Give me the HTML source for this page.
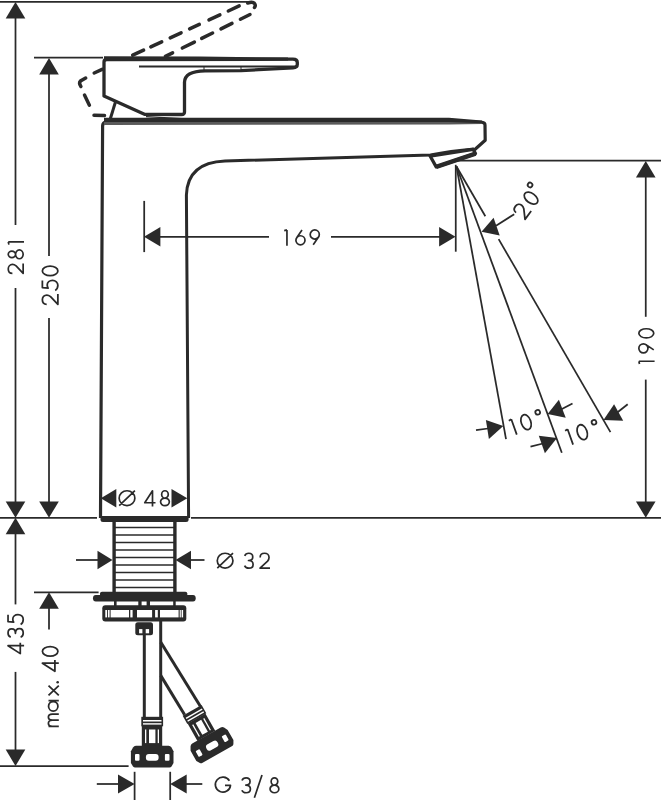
<!DOCTYPE html>
<html><head><meta charset="utf-8"><style>
html,body{margin:0;padding:0;background:#fff;}
svg{display:block;}
text{font-family:"Liberation Sans",sans-serif;fill:#2a2a2a;}
</style></head><body>
<svg width="661" height="800" viewBox="0 0 661 800" stroke="#2a2a2a" fill="none">
<line x1="0.00" y1="1.90" x2="251.00" y2="1.90" stroke-width="1.75" />
<line x1="34.00" y1="57.50" x2="103.00" y2="57.50" stroke-width="1.75" />
<line x1="15.50" y1="10.00" x2="15.50" y2="225.00" stroke-width="1.75" />
<line x1="15.50" y1="288.00" x2="15.50" y2="510.00" stroke-width="1.75" />
<polygon points="15.50,2.00 25.30,18.40 5.70,18.40" fill="#2a2a2a" stroke="none" stroke-width="0"/>
<polygon points="15.50,517.80 5.70,501.40 25.30,501.40" fill="#2a2a2a" stroke="none" stroke-width="0"/>
<polygon points="15.50,517.80 25.30,534.20 5.70,534.20" fill="#2a2a2a" stroke="none" stroke-width="0"/>
<line x1="15.50" y1="525.00" x2="15.50" y2="604.40" stroke-width="1.75" />
<line x1="15.50" y1="671.90" x2="15.50" y2="758.00" stroke-width="1.75" />
<polygon points="15.50,766.00 5.70,749.60 25.30,749.60" fill="#2a2a2a" stroke="none" stroke-width="0"/>
<line x1="49.00" y1="66.00" x2="49.00" y2="256.00" stroke-width="1.75" />
<line x1="49.00" y1="318.00" x2="49.00" y2="510.00" stroke-width="1.75" />
<polygon points="49.00,58.00 58.80,74.40 39.20,74.40" fill="#2a2a2a" stroke="none" stroke-width="0"/>
<polygon points="49.00,517.80 39.20,501.40 58.80,501.40" fill="#2a2a2a" stroke="none" stroke-width="0"/>
<polygon points="49.00,592.30 58.80,608.70 39.20,608.70" fill="#2a2a2a" stroke="none" stroke-width="0"/>
<line x1="49.00" y1="600.00" x2="49.00" y2="629.40" stroke-width="1.75" />
<line x1="0.00" y1="517.80" x2="97.00" y2="517.80" stroke-width="1.75" />
<line x1="191.00" y1="517.80" x2="661.00" y2="517.80" stroke-width="1.75" />
<line x1="34.00" y1="592.30" x2="98.60" y2="592.30" stroke-width="1.75" />
<line x1="0.00" y1="766.20" x2="128.60" y2="766.20" stroke-width="1.75" />
<line x1="144.20" y1="200.90" x2="144.20" y2="252.10" stroke-width="1.75" />
<line x1="152.00" y1="236.75" x2="269.00" y2="236.75" stroke-width="1.75" />
<line x1="331.00" y1="236.75" x2="447.00" y2="236.75" stroke-width="1.75" />
<polygon points="144.00,236.75 160.40,226.95 160.40,246.55" fill="#2a2a2a" stroke="none" stroke-width="0"/>
<polygon points="455.50,236.75 439.10,246.55 439.10,226.95" fill="#2a2a2a" stroke="none" stroke-width="0"/>
<line x1="455.75" y1="164.80" x2="455.75" y2="251.70" stroke-width="1.75" />
<line x1="457.00" y1="160.70" x2="661.00" y2="160.70" stroke-width="1.75" />
<line x1="645.75" y1="169.00" x2="645.75" y2="316.80" stroke-width="1.75" />
<line x1="645.75" y1="379.60" x2="645.75" y2="510.00" stroke-width="1.75" />
<polygon points="645.75,161.00 655.55,177.40 635.95,177.40" fill="#2a2a2a" stroke="none" stroke-width="0"/>
<polygon points="645.75,517.80 635.95,501.40 655.55,501.40" fill="#2a2a2a" stroke="none" stroke-width="0"/>
<line x1="456.50" y1="166.50" x2="506.03" y2="439.04" stroke-width="1.75" />
<line x1="456.50" y1="166.50" x2="561.82" y2="452.74" stroke-width="1.75" />
<line x1="456.50" y1="166.50" x2="485.34" y2="216.25" stroke-width="1.75" />
<line x1="498.63" y1="239.17" x2="610.46" y2="432.10" stroke-width="1.75" />
<polygon points="481.50,231.70 493.60,217.80 499.70,235.40" fill="#2a2a2a" stroke="none" stroke-width="0"/>
<line x1="496.00" y1="225.70" x2="514.20" y2="214.20" stroke-width="1.75" />
<polygon points="100.80,498.30 116.30,489.10 116.30,507.50" fill="#2a2a2a" stroke="none" stroke-width="0"/>
<polygon points="187.30,498.30 171.50,507.50 171.50,489.10" fill="#2a2a2a" stroke="none" stroke-width="0"/>
<polygon points="112.50,560.00 97.50,569.20 97.50,550.80" fill="#2a2a2a" stroke="none" stroke-width="0"/>
<line x1="76.00" y1="560.00" x2="100.00" y2="560.00" stroke-width="1.75" />
<polygon points="175.50,560.00 191.00,550.80 191.00,569.20" fill="#2a2a2a" stroke="none" stroke-width="0"/>
<line x1="188.00" y1="560.00" x2="204.50" y2="560.00" stroke-width="1.75" />
<line x1="134.60" y1="771.80" x2="134.60" y2="800.00" stroke-width="1.75" />
<line x1="170.20" y1="771.80" x2="170.20" y2="800.00" stroke-width="1.75" />
<polygon points="134.60,784.00 118.00,793.50 118.00,774.50" fill="#2a2a2a" stroke="none" stroke-width="0"/>
<line x1="96.80" y1="784.00" x2="122.00" y2="784.00" stroke-width="1.75" />
<polygon points="170.20,784.00 186.70,774.50 186.70,793.50" fill="#2a2a2a" stroke="none" stroke-width="0"/>
<line x1="182.00" y1="784.00" x2="202.30" y2="784.00" stroke-width="1.75" />
<polygon points="503.30,426.00 485.90,420.00 488.90,438.90" fill="#2a2a2a" stroke="none" stroke-width="0"/>
<line x1="476.00" y1="430.20" x2="488.00" y2="428.50" stroke-width="1.75" />
<polygon points="547.60,414.00 558.90,399.70 565.70,417.80" fill="#2a2a2a" stroke="none" stroke-width="0"/>
<line x1="560.00" y1="410.00" x2="572.50" y2="403.40" stroke-width="1.75" />
<polygon points="557.00,438.10 538.80,435.80 544.90,453.20" fill="#2a2a2a" stroke="none" stroke-width="0"/>
<line x1="530.50" y1="446.60" x2="543.00" y2="443.50" stroke-width="1.75" />
<polygon points="603.50,420.00 614.10,404.20 623.20,420.80" fill="#2a2a2a" stroke="none" stroke-width="0"/>
<line x1="616.00" y1="413.50" x2="627.70" y2="404.20" stroke-width="1.75" />
<line x1="94.20" y1="73.03" x2="102.10" y2="69.37" stroke-width="3.5" stroke-linecap="round"/>
<line x1="132.70" y1="55.21" x2="143.60" y2="50.17" stroke-width="3.5" stroke-linecap="round"/>
<line x1="150.80" y1="46.84" x2="161.70" y2="41.79" stroke-width="3.5" stroke-linecap="round"/>
<line x1="170.20" y1="37.86" x2="181.10" y2="32.81" stroke-width="3.5" stroke-linecap="round"/>
<line x1="189.60" y1="28.88" x2="199.30" y2="24.39" stroke-width="3.5" stroke-linecap="round"/>
<line x1="209.00" y1="19.90" x2="219.90" y2="14.86" stroke-width="3.5" stroke-linecap="round"/>
<line x1="228.30" y1="10.97" x2="239.20" y2="5.92" stroke-width="3.5" stroke-linecap="round"/>
<line x1="165.40" y1="56.41" x2="172.60" y2="52.85" stroke-width="3.5" stroke-linecap="round"/>
<line x1="182.30" y1="48.05" x2="194.40" y2="42.06" stroke-width="3.5" stroke-linecap="round"/>
<line x1="201.70" y1="38.44" x2="212.60" y2="33.05" stroke-width="3.5" stroke-linecap="round"/>
<line x1="221.00" y1="28.89" x2="232.00" y2="23.44" stroke-width="3.5" stroke-linecap="round"/>
<line x1="240.40" y1="19.29" x2="250.00" y2="14.53" stroke-width="3.5" stroke-linecap="round"/>
<path d="M247.7,3 Q253,1.5 254.5,3.5 Q256,5.5 254.5,7.5" stroke-width="3.5" fill="none" stroke-linecap="round"/>
<path d="M85.7,78 L80.5,81 Q78.5,83 80.9,86.5" stroke-width="3.5" fill="none" stroke-linecap="round"/>
<line x1="84.50" y1="95.00" x2="89.40" y2="105.20" stroke-width="3.5" stroke-linecap="round"/>
<line x1="94.00" y1="115.20" x2="104.50" y2="115.50" stroke-width="3.5" stroke-linecap="round"/>
<path d="M104,96 L104,62 Q104,59.5 107,59.5 L293,59.2 Q297.3,59.2 297.3,62.5 L297.3,64.5 Q297.3,67.6 293,67.8 L241,70.6 L205,70.8 Q185,71 184.5,82 L184.5,112 Q184.5,114.5 181.5,114.5 L145,114.4 Z" stroke-width="3.3" fill="none" stroke-linejoin="round"/>
<polygon points="104.00,56.30 200.00,56.40 288.00,57.60 288.00,60.40 200.00,60.90 104.00,61.00" fill="#2a2a2a" stroke="none" stroke-width="0"/>
<line x1="139.00" y1="66.40" x2="296.00" y2="66.40" stroke-width="2.0" />
<line x1="204.00" y1="66.50" x2="204.00" y2="70.60" stroke-width="1" />
<line x1="241.00" y1="66.50" x2="241.00" y2="70.60" stroke-width="1" />
<line x1="115.40" y1="102.20" x2="109.30" y2="122.00" stroke-width="3" />
<line x1="146.00" y1="116.60" x2="200.00" y2="119.60" stroke-width="1.4" />
<path d="M100.5,518 L102.6,126 Q102.6,122 106.5,122 L447,121.3 L482,122.3 Q485,122.5 485,125 L485.2,140.3 L474.3,150" stroke-width="3.2" fill="none" stroke-linejoin="round"/>
<polygon points="104.00,121.60 449.00,121.40 482.00,122.30 482.00,124.00 449.00,124.60 104.00,125.00" fill="#5a5a5a" stroke="none" stroke-width="0"/>
<polygon points="104.00,117.80 449.00,117.70 482.00,120.60 482.00,123.20 449.00,121.90 104.00,122.00" fill="#2a2a2a" stroke="none" stroke-width="0"/>
<path d="M474,149 Q450,151 430.5,155 L225,161 Q187.5,162.5 186.4,195 L188.6,518" stroke-width="3" fill="none" />
<path d="M100.5,516 L188.6,516 L188.6,519.5 Q188.6,522 186,522 L103,522 Q100.5,522 100.5,519.5 Z" stroke-width="0" fill="#2a2a2a" />
<path d="M430.1,156 L436.2,166.9 L475.5,153.6 L473.1,149.3 Z" stroke-width="3.3" fill="none" stroke-linejoin="round"/>
<line x1="436.20" y1="166.90" x2="475.50" y2="153.60" stroke-width="4.3" />
<line x1="114.10" y1="521.00" x2="114.10" y2="592.00" stroke-width="3.4" />
<line x1="174.90" y1="521.00" x2="174.90" y2="592.00" stroke-width="3.4" />
<line x1="114.00" y1="527.50" x2="175.00" y2="527.50" stroke-width="1.5" />
<line x1="114.00" y1="535.00" x2="175.00" y2="535.00" stroke-width="1.5" />
<line x1="114.00" y1="542.50" x2="175.00" y2="542.50" stroke-width="1.5" />
<line x1="114.00" y1="550.00" x2="175.00" y2="550.00" stroke-width="1.5" />
<line x1="114.00" y1="557.40" x2="175.00" y2="557.40" stroke-width="1.5" />
<line x1="114.00" y1="564.90" x2="175.00" y2="564.90" stroke-width="1.5" />
<line x1="114.00" y1="572.40" x2="175.00" y2="572.40" stroke-width="1.5" />
<line x1="114.00" y1="579.90" x2="175.00" y2="579.90" stroke-width="1.5" />
<line x1="114.00" y1="587.40" x2="175.00" y2="587.40" stroke-width="1.5" />
<path d="M100,595 L100,593.5 Q100,591.7 102,591.7 L185.3,591.7 Q187.3,591.7 187.3,593.5 L187.3,595 Z" stroke-width="0" fill="#2a2a2a" />
<path d="M95.8,595 L193,595 Q195.7,595 195.7,598.3 Q195.7,601.6 193,601.6 L95.8,601.6 Q93,601.6 93,598.3 Q93,595 95.8,595 Z" stroke-width="0" fill="#2a2a2a" />
<rect x="114" y="601" width="2.5999999999999943" height="5" fill="#2a2a2a" stroke="none"/>
<rect x="138.3" y="601" width="3.299999999999983" height="5" fill="#2a2a2a" stroke="none"/>
<rect x="146.6" y="601" width="3.4000000000000057" height="5" fill="#2a2a2a" stroke="none"/>
<rect x="173.2" y="601" width="2.5" height="5" fill="#2a2a2a" stroke="none"/>
<rect x="102.3" y="605.3" width="84" height="16.2" rx="3" fill="#2a2a2a" stroke="none"/>
<rect x="105.3" y="610" width="1.7000000000000028" height="7.4" fill="#fff" stroke="none"/>
<rect x="107.9" y="610" width="1.6999999999999886" height="7.4" fill="#fff" stroke="none"/>
<rect x="110.6" y="610" width="18.400000000000006" height="7.4" fill="#fff" stroke="none"/>
<rect x="130.3" y="610" width="2.299999999999983" height="7.4" fill="#fff" stroke="none"/>
<rect x="137" y="610" width="15.099999999999994" height="7.4" fill="#fff" stroke="none"/>
<rect x="155.1" y="610" width="2.700000000000017" height="7.4" fill="#fff" stroke="none"/>
<rect x="160" y="610" width="18.599999999999994" height="7.4" fill="#fff" stroke="none"/>
<rect x="179.7" y="610" width="1.1000000000000227" height="7.4" fill="#fff" stroke="none"/>
<rect x="181.6" y="610" width="1.5" height="7.4" fill="#fff" stroke="none"/>
<rect x="135.3" y="622.2" width="17.7" height="13" rx="2.5" fill="#2a2a2a" stroke="none"/>
<rect x="139.1" y="629.1" width="3.3" height="4.2" fill="#fff" stroke="none"/>
<rect x="145.7" y="629.1" width="3.4" height="4.2" fill="#fff" stroke="none"/>
<line x1="144.30" y1="634.00" x2="144.30" y2="717.00" stroke-width="3" />
<line x1="160.70" y1="620.00" x2="160.70" y2="717.00" stroke-width="3" />
<line x1="160.80" y1="642.20" x2="200.30" y2="706.30" stroke-width="3" />
<line x1="160.80" y1="675.60" x2="184.60" y2="714.70" stroke-width="3" />
<g><rect x="141.3" y="716.8" width="21.8" height="9.5" fill="#2a2a2a" stroke="none"/><rect x="143" y="720" width="18.5" height="1.5" fill="#fff" stroke="none"/><rect x="143" y="723.2" width="18.5" height="1.4" fill="#fff" stroke="none"/><rect x="141.8" y="726" width="20.4" height="20" fill="#2a2a2a" stroke="none"/><rect x="145" y="729.5" width="1.3000000000000114" height="13.6" fill="#fff" stroke="none"/><rect x="149" y="729.5" width="6.400000000000006" height="13.6" fill="#fff" stroke="none"/><rect x="157.7" y="729.5" width="1.3000000000000114" height="13.6" fill="#fff" stroke="none"/><path d="M135.9,745.8 L168.6,745.8 Q170.5,745.8 171.5,747.5 L173.5,751.3 L173.5,763 L171.5,766.5 Q170.8,767.6 169.5,767.6 L135,767.6 Q134,767.6 133,766.5 L130.9,763 L130.9,751.3 L133,747.5 Q134,745.8 135.9,745.8 Z" fill="#2a2a2a" stroke="none"/><rect x="135" y="754" width="4.5" height="6.8" rx="1" fill="#fff" stroke="none"/><rect x="145.9" y="754" width="12.7" height="6.8" rx="3" fill="#fff" stroke="none"/><rect x="164.9" y="754" width="4.6" height="6.8" rx="1" fill="#fff" stroke="none"/></g>
<g transform="translate(192.4,710.2) rotate(-29.5) translate(-152.5,-716.8)"><rect x="141.3" y="716.8" width="21.8" height="9.5" fill="#2a2a2a" stroke="none"/><rect x="143" y="720" width="18.5" height="1.5" fill="#fff" stroke="none"/><rect x="143" y="723.2" width="18.5" height="1.4" fill="#fff" stroke="none"/><rect x="141.8" y="726" width="20.4" height="20" fill="#2a2a2a" stroke="none"/><rect x="145" y="729.5" width="1.3000000000000114" height="13.6" fill="#fff" stroke="none"/><rect x="149" y="729.5" width="6.400000000000006" height="13.6" fill="#fff" stroke="none"/><rect x="157.7" y="729.5" width="1.3000000000000114" height="13.6" fill="#fff" stroke="none"/><path d="M135.9,745.8 L168.6,745.8 Q170.5,745.8 171.5,747.5 L173.5,751.3 L173.5,763 L171.5,766.5 Q170.8,767.6 169.5,767.6 L135,767.6 Q134,767.6 133,766.5 L130.9,763 L130.9,751.3 L133,747.5 Q134,745.8 135.9,745.8 Z" fill="#2a2a2a" stroke="none"/><rect x="135" y="754" width="4.5" height="6.8" rx="1" fill="#fff" stroke="none"/><rect x="145.9" y="754" width="12.7" height="6.8" rx="3" fill="#fff" stroke="none"/><rect x="164.9" y="754" width="4.6" height="6.8" rx="1" fill="#fff" stroke="none"/></g>
<g transform="translate(283.80,245.70) rotate(0) scale(1.0)" stroke-width="1.7" fill="none" stroke-linecap="butt" stroke-linejoin="round"><path transform="translate(0,0)" d="M3.15,0 L3.15,-15.75 M0.4,-15.1 L3.15,-15.75"/><path transform="translate(11.199999999999978,0)" d="M7.00,-15.75 L1.69,-7.96 M0.90,-5.40 a4.55,4.55 0 1 0 9.10,0 a4.55,4.55 0 1 0 -9.10,0"/><path transform="translate(25.49999999999999,0)" d="M3.90,-0.85 L9.21,-8.64 M0.90,-11.20 a4.55,4.55 0 1 0 9.10,0 a4.55,4.55 0 1 0 -9.10,0"/></g>
<g transform="translate(24.00,274.30) rotate(-90) scale(1.0)" stroke-width="1.7" fill="none" stroke-linecap="butt" stroke-linejoin="round"><path transform="translate(0,0)" d="M0.95,-11.6 C0.95,-14.2 2.9,-15.75 5.35,-15.75 C7.9,-15.75 9.85,-14.0 9.85,-11.5 C9.85,-10.1 9.3,-9.0 8.4,-7.9 L0.85,-0.85 L10.8,-0.85"/><path transform="translate(14.7,0)" d="M1.95,-12.10 a3.3,3.65 0 1 0 6.60,0 a3.3,3.65 0 1 0 -6.60,0 M0.85,-4.65 a4.4,3.8 0 1 0 8.80,0 a4.4,3.8 0 1 0 -8.80,0"/><path transform="translate(29.3,0)" d="M3.15,0 L3.15,-15.75 M0.4,-15.1 L3.15,-15.75"/></g>
<g transform="translate(58.75,305.30) rotate(-90) scale(1.04)" stroke-width="1.7" fill="none" stroke-linecap="butt" stroke-linejoin="round"><path transform="translate(0,0)" d="M0.95,-11.6 C0.95,-14.2 2.9,-15.75 5.35,-15.75 C7.9,-15.75 9.85,-14.0 9.85,-11.5 C9.85,-10.1 9.3,-9.0 8.4,-7.9 L0.85,-0.85 L10.8,-0.85"/><path transform="translate(13.4,0)" d="M10.4,-15.75 L3.6,-15.75 L3.1,-10.2 C4.0,-10.8 5.0,-11.1 6.0,-11.1 C8.7,-11.1 10.55,-8.8 10.55,-6.0 C10.55,-3.0 8.5,-0.85 5.8,-0.85 C3.6,-0.85 1.8,-1.9 0.9,-3.4"/><path transform="translate(27.6,0)" d="M0.85,-8.30 a4.6,7.45 0 1 0 9.20,0 a4.6,7.45 0 1 0 -9.20,0"/></g>
<g transform="translate(654.60,364.40) rotate(-90) scale(1.0)" stroke-width="1.7" fill="none" stroke-linecap="butt" stroke-linejoin="round"><path transform="translate(0,0)" d="M3.15,0 L3.15,-15.75 M0.4,-15.1 L3.15,-15.75"/><path transform="translate(10.6,0)" d="M3.90,-0.85 L9.21,-8.64 M0.90,-11.20 a4.55,4.55 0 1 0 9.10,0 a4.55,4.55 0 1 0 -9.10,0"/><path transform="translate(25.6,0)" d="M0.85,-8.30 a4.6,7.45 0 1 0 9.20,0 a4.6,7.45 0 1 0 -9.20,0"/></g>
<g transform="translate(24.10,654.50) rotate(-90) scale(1.02)" stroke-width="1.7" fill="none" stroke-linecap="butt" stroke-linejoin="round"><path transform="translate(0,0)" d="M8.6,0 L8.6,-15.75 L0.85,-3.75 L11.6,-3.75"/><path transform="translate(16.2,0)" d="M0.8,-13.1 C1.4,-14.8 3.0,-15.75 4.9,-15.75 C7.2,-15.75 8.85,-14.2 8.85,-12.1 C8.85,-9.9 7.1,-8.5 4.6,-8.5 C7.5,-8.5 9.2,-6.7 9.2,-4.6 C9.2,-2.3 7.3,-0.85 4.9,-0.85 C2.9,-0.85 1.3,-1.8 0.7,-3.4"/><path transform="translate(28.6,0)" d="M10.4,-15.75 L3.6,-15.75 L3.1,-10.2 C4.0,-10.8 5.0,-11.1 6.0,-11.1 C8.7,-11.1 10.55,-8.8 10.55,-6.0 C10.55,-3.0 8.5,-0.85 5.8,-0.85 C3.6,-0.85 1.8,-1.9 0.9,-3.4"/></g>
<g transform="translate(58.80,727.20) rotate(-90) scale(1.04)" stroke-width="1.7" fill="none" stroke-linecap="butt" stroke-linejoin="round"><path transform="translate(0,0)" d="M0.85,0 L0.85,-9.9 M0.85,-6.3 C0.85,-8.8 2.2,-10.0 3.8,-10.0 C5.5,-10.0 6.75,-8.8 6.75,-6.3 L6.75,0 M6.75,-6.3 C6.75,-8.8 8.1,-10.0 9.7,-10.0 C11.4,-10.0 12.65,-8.8 12.65,-6.3 L12.65,0"/><path transform="translate(14.6,0)" d="M0.85,-5.35 a4.6,4.5 0 1 0 9.20,0 a4.6,4.5 0 1 0 -9.20,0 M11.0,-9.9 L11.0,0"/><path transform="translate(29.8,0)" d="M0.9,-9.9 L10.2,0 M10.2,-9.9 L0.9,0"/><circle cx="43.2" cy="-1.1" r="1.25" fill="#2a2a2a" stroke="none"/><path transform="translate(53.0,0)" d="M8.6,0 L8.6,-15.75 L0.85,-3.75 L11.6,-3.75"/><path transform="translate(67.5,0)" d="M0.85,-8.30 a4.6,7.45 0 1 0 9.20,0 a4.6,7.45 0 1 0 -9.20,0"/></g>
<g transform="translate(118.30,506.50) rotate(0) scale(1.0)" stroke-width="1.7" fill="none" stroke-linecap="butt" stroke-linejoin="round"><path transform="translate(0,0)" d="M0.85,-8.30 a7.85,7.45 0 1 0 15.70,0 a7.85,7.45 0 1 0 -15.70,0 M0.9,-0.9 L16.6,-15.9"/><path transform="translate(25.60000000000001,0)" d="M8.6,0 L8.6,-15.75 L0.85,-3.75 L11.6,-3.75"/><path transform="translate(41.39999999999999,0)" d="M1.95,-12.10 a3.3,3.65 0 1 0 6.60,0 a3.3,3.65 0 1 0 -6.60,0 M0.85,-4.65 a4.4,3.8 0 1 0 8.80,0 a4.4,3.8 0 1 0 -8.80,0"/></g>
<g transform="translate(216.40,569.00) rotate(0) scale(1.0)" stroke-width="1.7" fill="none" stroke-linecap="butt" stroke-linejoin="round"><path transform="translate(0,0)" d="M0.85,-8.30 a7.85,7.45 0 1 0 15.70,0 a7.85,7.45 0 1 0 -15.70,0 M0.9,-0.9 L16.6,-15.9"/><path transform="translate(27.5,0)" d="M0.8,-13.1 C1.4,-14.8 3.0,-15.75 4.9,-15.75 C7.2,-15.75 8.85,-14.2 8.85,-12.1 C8.85,-9.9 7.1,-8.5 4.6,-8.5 C7.5,-8.5 9.2,-6.7 9.2,-4.6 C9.2,-2.3 7.3,-0.85 4.9,-0.85 C2.9,-0.85 1.3,-1.8 0.7,-3.4"/><path transform="translate(42.79999999999998,0)" d="M0.95,-11.6 C0.95,-14.2 2.9,-15.75 5.35,-15.75 C7.9,-15.75 9.85,-14.0 9.85,-11.5 C9.85,-10.1 9.3,-9.0 8.4,-7.9 L0.85,-0.85 L10.8,-0.85"/></g>
<g transform="translate(214.40,793.60) rotate(0) scale(1.0)" stroke-width="1.7" fill="none" stroke-linecap="butt" stroke-linejoin="round"><path transform="translate(0,0)" d="M15.0,-12.9 A7.6,7.45 0 1 0 16.1,-8.3 L10.6,-8.3"/><path transform="translate(26.799999999999983,0)" d="M0.8,-13.1 C1.4,-14.8 3.0,-15.75 4.9,-15.75 C7.2,-15.75 8.85,-14.2 8.85,-12.1 C8.85,-9.9 7.1,-8.5 4.6,-8.5 C7.5,-8.5 9.2,-6.7 9.2,-4.6 C9.2,-2.3 7.3,-0.85 4.9,-0.85 C2.9,-0.85 1.3,-1.8 0.7,-3.4"/><path transform="translate(39.400000000000006,0)" d="M0.6,4.1 L8.2,-18.7"/><path transform="translate(54.79999999999998,0)" d="M1.95,-12.10 a3.3,3.65 0 1 0 6.60,0 a3.3,3.65 0 1 0 -6.60,0 M0.85,-4.65 a4.4,3.8 0 1 0 8.80,0 a4.4,3.8 0 1 0 -8.80,0"/></g>
<g transform="translate(525.20,220.60) rotate(-53.5) scale(1.04)" stroke-width="1.7" fill="none" stroke-linecap="butt" stroke-linejoin="round"><path transform="translate(0,0)" d="M0.95,-11.6 C0.95,-14.2 2.9,-15.75 5.35,-15.75 C7.9,-15.75 9.85,-14.0 9.85,-11.5 C9.85,-10.1 9.3,-9.0 8.4,-7.9 L0.85,-0.85 L10.8,-0.85"/><path transform="translate(15.2,0)" d="M0.85,-8.30 a4.6,7.45 0 1 0 9.20,0 a4.6,7.45 0 1 0 -9.20,0"/><path transform="translate(30.3,-16.6)" d="M-2.25,0.00 a2.25,2.25 0 1 0 4.50,0 a2.25,2.25 0 1 0 -4.50,0"/></g>
<g transform="translate(513.70,435.75) rotate(-19.6) scale(1.04)" stroke-width="1.7" fill="none" stroke-linecap="butt" stroke-linejoin="round"><path transform="translate(0,0)" d="M3.15,0 L3.15,-15.75 M0.4,-15.1 L3.15,-15.75"/><path transform="translate(10.1,0)" d="M0.85,-8.30 a4.6,7.45 0 1 0 9.20,0 a4.6,7.45 0 1 0 -9.20,0"/><path transform="translate(29.3,-13.5)" d="M-2.25,0.00 a2.25,2.25 0 1 0 4.50,0 a2.25,2.25 0 1 0 -4.50,0"/></g>
<g transform="translate(570.00,445.75) rotate(-19.6) scale(1.04)" stroke-width="1.7" fill="none" stroke-linecap="butt" stroke-linejoin="round"><path transform="translate(0,0)" d="M3.15,0 L3.15,-15.75 M0.4,-15.1 L3.15,-15.75"/><path transform="translate(10.0,0)" d="M0.85,-8.30 a4.6,7.45 0 1 0 9.20,0 a4.6,7.45 0 1 0 -9.20,0"/><path transform="translate(29.3,-13.5)" d="M-2.25,0.00 a2.25,2.25 0 1 0 4.50,0 a2.25,2.25 0 1 0 -4.50,0"/></g>
</svg></body></html>
